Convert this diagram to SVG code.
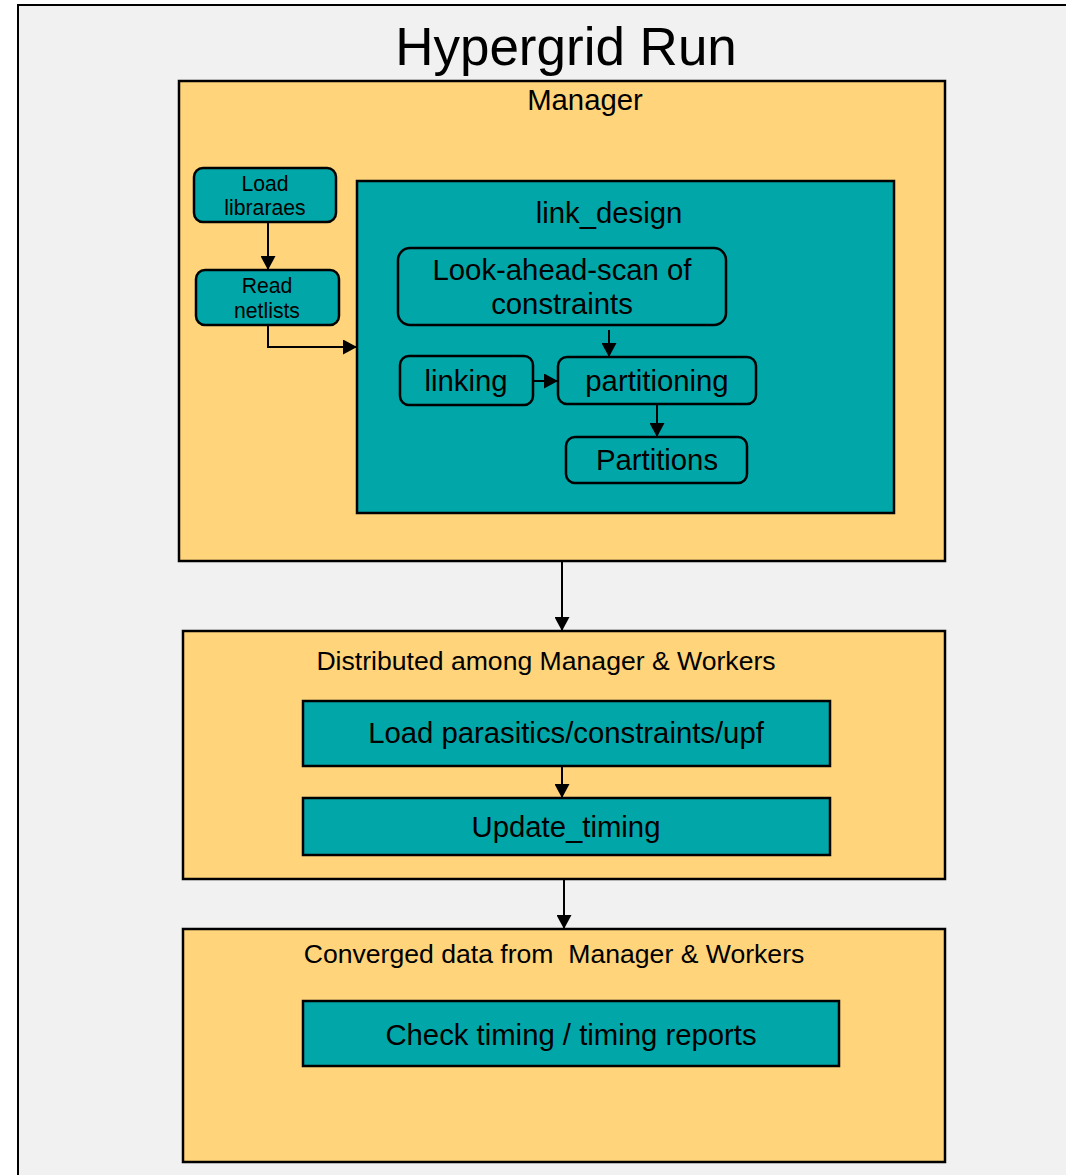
<svg xmlns="http://www.w3.org/2000/svg" width="1066" height="1175" viewBox="0 0 1066 1175">
<defs>
<style>
text{font-family:"Liberation Sans",Arial,sans-serif;fill:#000;text-anchor:middle}
.frame{fill:#f1f1f1;stroke:#000;stroke-width:2}
.stage{fill:#ffd47a;stroke:#000;stroke-width:2.5}
.teal{fill:#00a6a8;stroke:#000;stroke-width:2.5}
.step{fill:#00a6a8;stroke:#000;stroke-width:2.5}
.conn{fill:none;stroke:#000;stroke-width:2}
.t{font-size:29.3px}
.h{font-size:26.6px}
.s{font-size:21.2px}
</style>
<marker id="ah" markerWidth="14" markerHeight="15" refX="14" refY="7.5" orient="auto" markerUnits="userSpaceOnUse">
<path d="M0,0 L14,7.5 L0,15 Z" fill="#000"/>
</marker>
</defs>
<rect x="0" y="0" width="1066" height="1175" fill="#ffffff"/>
<rect class="frame" x="18" y="5" width="1070" height="1190"/>
<text x="566" y="65" font-size="53">Hypergrid Run</text>

<g id="manager">
<rect class="stage" x="179" y="81" width="766" height="480"/>
<text class="t" x="585" y="110">Manager</text>
</g>
<g id="load-libraries">
<rect class="step" x="194" y="168" width="142" height="54" rx="9"/>
<text class="s" x="265" y="191">Load</text>
<text class="s" x="265" y="215">libraraes</text>
</g>
<g id="read-netlists">
<rect class="step" x="196" y="270" width="143" height="55" rx="9"/>
<text class="s" x="267" y="293">Read</text>
<text class="s" x="267" y="318">netlists</text>
</g>
<g id="link-design">
<rect class="teal" x="357" y="181" width="537" height="332"/>
<text class="t" x="609" y="223">link_design</text>
</g>
<g id="look-ahead">
<rect class="step" x="398" y="248" width="328" height="77" rx="12"/>
<text class="t" x="562" y="280">Look-ahead-scan of</text>
<text class="t" x="562" y="314">constraints</text>
</g>
<g id="linking">
<rect class="step" x="400" y="356" width="133" height="49" rx="9"/>
<text class="t" x="466" y="391">linking</text>
</g>
<g id="partitioning">
<rect class="step" x="558" y="357" width="198" height="47" rx="9"/>
<text class="t" x="657" y="391">partitioning</text>
</g>
<g id="partitions">
<rect class="step" x="566" y="437" width="181" height="46" rx="9"/>
<text class="t" x="657" y="470">Partitions</text>
</g>

<g id="distributed">
<rect class="stage" x="183" y="631" width="762" height="248"/>
<text class="h" x="546" y="670">Distributed among Manager &amp; Workers</text>
</g>
<g id="load-parasitics">
<rect class="step" x="303" y="701" width="527" height="65"/>
<text class="t" x="566" y="743">Load parasitics/constraints/upf</text>
</g>
<g id="update-timing">
<rect class="step" x="303" y="798" width="527" height="57"/>
<text class="t" x="566" y="837">Update_timing</text>
</g>

<g id="converged">
<rect class="stage" x="183" y="929" width="762" height="233"/>
<text class="h" x="554" y="963" xml:space="preserve">Converged data from  Manager &amp; Workers</text>
</g>
<g id="check-timing">
<rect class="step" x="303" y="1001" width="536" height="65"/>
<text class="t" x="571" y="1045">Check timing / timing reports</text>
</g>

<g id="connectors">
<path class="conn" d="M268,222 L268,270" marker-end="url(#ah)"/>
<path class="conn" d="M268,325 L268,347 L357,347" marker-end="url(#ah)"/>
<path class="conn" d="M609,330 L609,357" marker-end="url(#ah)"/>
<path class="conn" d="M533,381 L558,381" marker-end="url(#ah)"/>
<path class="conn" d="M657,404 L657,437" marker-end="url(#ah)"/>
<path class="conn" d="M562,561 L562,631" marker-end="url(#ah)"/>
<path class="conn" d="M562,766 L562,798" marker-end="url(#ah)"/>
<path class="conn" d="M564,879 L564,929" marker-end="url(#ah)"/>
</g>
</svg>
